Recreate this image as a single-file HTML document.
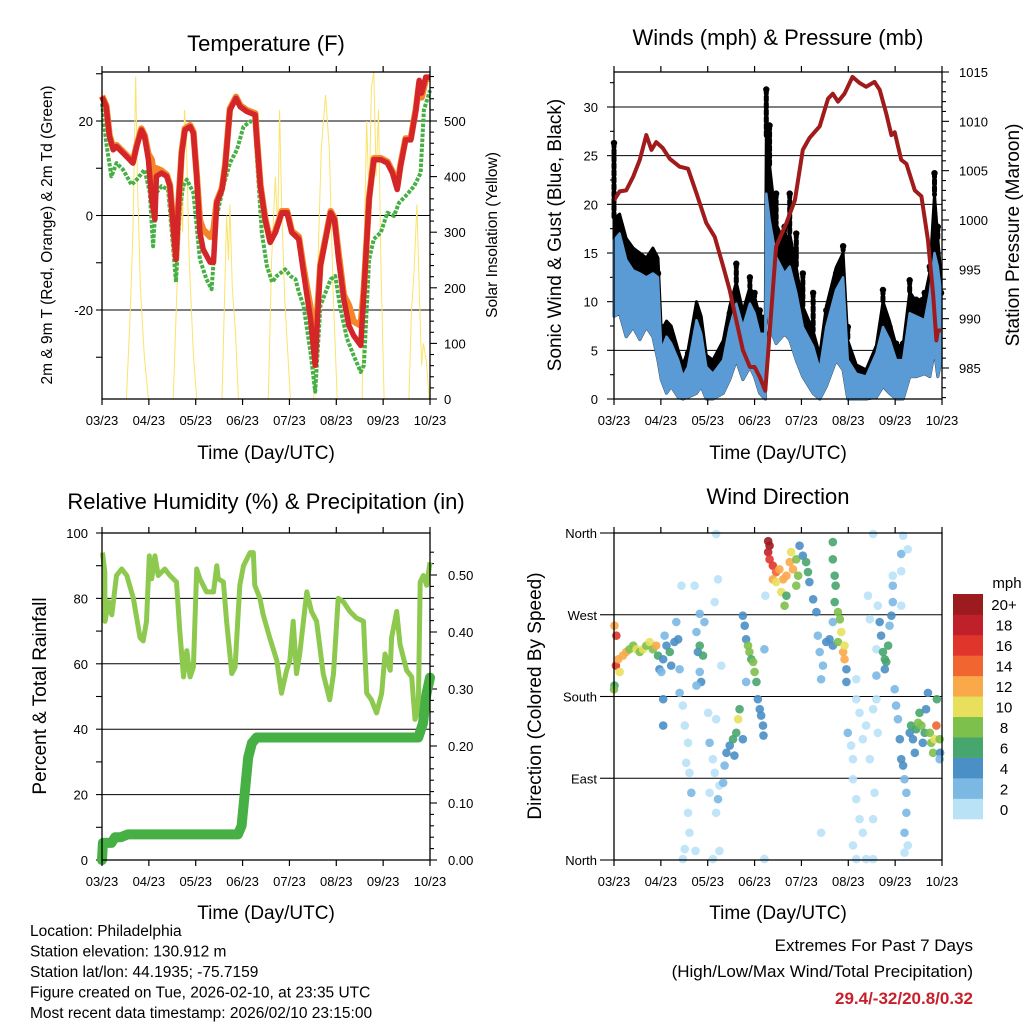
<!DOCTYPE html>
<html><head><meta charset="utf-8"><style>
html,body{margin:0;padding:0;background:#fff;}
svg{display:block;font-family:"Liberation Sans",Arial,sans-serif;}
</style></head><body>
<svg id="chart" width="1024" height="1024" viewBox="0 0 1024 1024" xmlns="http://www.w3.org/2000/svg">
<g id="layer"></g>
</svg>
<script>
// ---------- DATA ----------
const xTickLabels = ["03/23","04/23","05/23","06/23","07/23","08/23","09/23","10/23"];
// Temperature panel
const tDays = [0,0.09,0.16,0.24,0.31,0.45,0.59,0.66,0.74,0.84,0.91,0.99,1.06,1.13,1.16,1.27,1.38,1.45,1.52,1.58,1.63,1.70,1.77,1.88,1.95,2.02,2.09,2.16,2.31,2.38,2.45,2.56,2.63,2.73,2.86,2.95,3.09,3.27,3.30,3.38,3.48,3.59,3.70,3.84,3.95,4.05,4.20,4.30,4.45,4.55,4.59,4.66,4.80,4.88,4.96,5.05,5.16,5.27,5.37,5.52,5.59,5.70,5.80,5.95,6.09,6.20,6.30,6.37,6.48,6.59,6.70,6.77,6.82,6.91,7.0];
const tempRed = [25.1,23,16.7,13.9,14.6,13.2,11.8,11.1,14.6,18.1,16.7,11.8,3.4,-0.8,8.3,9.0,8.3,6.2,-2.3,-9.3,2.0,13.2,18.1,18.8,17.4,8.3,-3.6,-7.2,-9.9,-9.9,2.7,5.5,10.4,22.3,24.8,23,22,21.3,16.7,6.2,-0.8,-5.7,-3.6,0.6,0.6,-3.6,-5.0,-12,-21.9,-31.7,-23.3,-10.7,-3.6,0.6,-0.8,-9.3,-17.7,-23.3,-25.4,-27.5,-16.2,3.4,11.8,11.8,11.1,9.0,5.5,10.4,16,16,22.3,28.6,25.9,29.3,29.3];
const tempOrange = [25.3,23.3,17,14.2,14.9,13.5,12.1,11.4,14.9,18.4,17,13,11.8,7,10,9.5,8.6,6.5,-2,-9,2.3,13.5,18.4,19.1,17.7,8.6,-1,-3,-4.5,-3,3,5.8,10.7,22.6,25.1,23.3,22.3,21.6,17,6.5,-0.5,-5.4,-3.3,0.9,0.9,-3.3,-4.5,-11,-19.5,-26,-21,-10.4,-3.3,0.9,-0.5,-8,-16.8,-19,-22.4,-23.3,-15.5,3.7,12.1,12.1,11.4,9.3,6,10.7,16.3,16.3,22.6,28,25,28.8,29];
const gDays = [0,0.09,0.20,0.31,0.45,0.63,0.74,0.91,1.02,1.09,1.16,1.27,1.41,1.48,1.58,1.66,1.73,1.81,1.95,2.02,2.09,2.23,2.34,2.45,2.59,2.73,2.88,3.02,3.16,3.27,3.30,3.41,3.52,3.63,3.73,3.91,4.02,4.13,4.20,4.30,4.45,4.55,4.66,4.88,4.98,5.09,5.23,5.37,5.52,5.59,5.70,5.80,5.95,6.09,6.23,6.34,6.48,6.66,6.80,6.87,7.0];
const dewGreen = [23.7,15.4,8.3,11.1,9.7,6.5,7.6,9.7,4.8,-6.5,4.8,6.2,5.5,-2.3,-14.1,1.3,6.2,7.6,4.8,-2.3,-9.3,-13.5,-15.6,-0.1,6.2,11.1,13.9,18.8,19.9,19.9,13.2,-3.6,-10.7,-14.1,-12.8,-11.4,-12.8,-13.5,-16.2,-19.1,-28.9,-37.3,-19.1,-13.5,-12.8,-19.8,-26.1,-29.6,-33.1,-31.7,-9.3,-5.0,-3.6,0.6,-0.1,2.7,4.1,6.2,9.0,22.3,26.5];
const solarDays = [0,0.52,0.6,0.66,0.72,0.76,0.82,0.9,0.99,1.52,1.6,1.68,1.72,1.76,1.8,1.86,1.95,2.02,2.56,2.62,2.66,2.7,2.73,2.78,2.85,2.91,3.55,3.62,3.7,3.75,3.79,3.84,3.9,4.02,4.52,4.6,4.68,4.77,4.85,4.93,5.02,5.55,5.6,5.65,5.7,5.75,5.8,5.85,5.9,5.95,6.02,6.55,6.6,6.66,6.72,6.77,6.82,6.86,6.92,6.98,7];
const solarVals = [0,0,150,300,580,380,200,80,0,0,200,420,300,520,470,250,80,0,0,200,330,250,350,200,120,0,0,250,400,300,520,330,180,0,0,220,450,547,450,200,0,0,300,500,350,560,589,400,520,250,0,0,150,230,350,200,60,100,70,0,0];
// Wind panel
const wDays = [0,0.12,0.26,0.41,0.55,0.69,0.83,0.94,1.01,1.12,1.22,1.37,1.47,1.58,1.76,1.86,1.97,2.11,2.33,2.47,2.61,2.75,2.90,3.00,3.11,3.23,3.25,3.32,3.46,3.64,3.75,3.89,4.03,4.25,4.39,4.53,4.74,4.89,4.99,5.17,5.38,5.60,5.74,5.88,6.02,6.17,6.31,6.45,6.63,6.74,6.84,6.91,6.98];
const windHi = [16.3,17.0,14.3,13.2,12.9,12.5,12.9,12.5,5.0,6.4,5.7,4.0,2.3,3.3,8.1,6.7,3.3,2.6,4.0,7.4,9.8,7.4,9.8,8.8,6.7,6.7,21.1,18.4,14.6,12.9,13.6,10.9,7.4,5.4,3.0,7.4,11.2,12.5,4.0,2.6,2.3,4.7,7.4,6.1,4.0,4.0,8.8,8.5,8.1,10.9,15.0,13.6,10.9];
const windLo = [8.5,8.8,6.4,7.4,6.1,7.4,6.4,4.0,2.0,0.6,1.3,0.2,0,0.2,0.6,1.3,0,0,0.6,2.0,4.0,2.0,3.3,2.3,0.6,0,10.9,7.4,5.7,6.7,6.1,4.0,2.3,0.6,0,1.3,4.0,3.0,0,0,0,0.2,1.3,0.6,0,0,2.3,2.3,2.6,2.3,5.0,2.3,4.0];
const gustBand = [18.5,19,16.5,15.5,15,14.5,15.5,14.5,7,8,7.5,5,3.5,5,10,8.5,4.5,4,6,9.5,12,9,11.5,10.5,8.5,8.5,27,24,18,16,17,13.5,9.5,7,4.5,9.5,13.5,15,6,3.5,3,5.5,10,8,5.5,5.5,11,10,10.5,13,21,16.5,12.5];
const gustHi = [26.3,17.7,15.7,14.3,13.6,12.5,14.3,12.9,7.4,7.4,6.4,3.0,2.0,4.7,8.8,6.7,3.0,3.0,5.0,8.8,13.9,9.1,12.5,10.9,9.1,6.7,31.8,28.1,21.1,17.7,21.1,17.0,12.9,10.9,5.0,9.1,12.9,15.7,7.4,3.0,2.3,4.7,11.2,7.4,5.7,5.7,12.2,10.2,10.9,13.6,23.2,17.7,10.9];
const pDays = [0,0.12,0.26,0.41,0.55,0.69,0.80,0.90,1.04,1.19,1.40,1.58,1.76,1.97,2.15,2.33,2.47,2.61,2.75,2.90,3.00,3.11,3.23,3.32,3.46,3.68,3.86,4.03,4.17,4.39,4.57,4.67,4.78,4.92,5.09,5.24,5.38,5.56,5.67,5.81,5.92,5.99,6.13,6.24,6.42,6.56,6.70,6.81,6.88,6.91,6.98];
const pressure = [1002.0,1002.9,1003.0,1004.4,1006.1,1008.6,1007.1,1007.9,1007.3,1006.2,1005.4,1005.2,1002.7,999.7,998.3,995.3,992.9,989.8,986.8,985.1,985.1,984.1,982.7,988.5,997.3,999.7,1002.0,1007.1,1008.3,1009.5,1012.3,1012.8,1012.0,1012.8,1014.5,1013.9,1013.5,1014.0,1013.2,1010.8,1008.6,1008.9,1006.1,1005.7,1003.0,1002.4,998.0,992.5,987.8,988.8,988.8];
// RH / precip panel
const rhDays = [0.01,0.06,0.065,0.14,0.21,0.31,0.42,0.53,0.67,0.81,0.88,0.95,1.01,1.06,1.13,1.20,1.34,1.45,1.59,1.66,1.74,1.81,1.88,1.95,2.02,2.09,2.23,2.38,2.45,2.48,2.59,2.66,2.77,2.84,2.94,3.02,3.16,3.23,3.26,3.37,3.44,3.58,3.73,3.83,3.94,4.01,4.08,4.15,4.22,4.37,4.47,4.58,4.72,4.86,4.94,5.04,5.15,5.29,5.43,5.58,5.65,5.75,5.86,5.97,6.04,6.15,6.18,6.29,6.36,6.50,6.61,6.68,6.75,6.79,6.86,6.93,7.0];
const rhVals = [94,88,73,79,75,87,89,87,80,68,67,73,93,86,93,87,89,87,85,70,56,64,56,59,89,86,82,82,90,86,85,73,57,59,84,90,94,94,84,80,75,68,61,51,58,61,73,57,63,82,76,73,57,49,57,80,79,76,74,73,51,49,45,51,63,58,68,76,66,58,56,43,46,85,87,84,91];
const prDays = [0,0.02,0.05,0.2,0.28,0.4,0.55,2.9,2.98,3.05,3.12,3.2,3.3,6.75,6.85,6.92,7.0];
const precip = [0,0.03,0.03,0.03,0.04,0.04,0.045,0.045,0.06,0.12,0.18,0.205,0.215,0.215,0.24,0.29,0.32];
// Wind direction panel: [day, degrees (0=N,90=E,180=S,270=W), speed mph]
const dirObs = [[0.01,258,13],[0.05,247,17],[0.04,214,17],[0.01,192,7],[0,188,9],[0.09,221,13],[0.12,207,11],[0.19,225,12],[0.26,229,13],[0.33,232,9],[0.41,236,9],[0.48,232,11],[0.55,229,9],[0.62,232,11],[0.69,236,9],[0.76,240,11],[0.83,232,9],[0.90,236,13],[0.94,225,7],[0.97,210,5],[1.05,221,5],[1.12,236,5],[1.19,229,7],[1.22,214,5],[1.29,240,5],[1.37,243,5],[1.40,210,3],[1.01,207,3],[1.05,177,5],[1.05,148,5],[1.08,247,3],[1.33,262,3],[1.44,302,1],[1.40,184,3],[1.47,170,1],[1.51,148,1],[1.58,129,1],[1.54,107,1],[1.61,96,1],[1.65,74,3],[1.58,52,1],[1.61,30,1],[1.51,12,1],[1.47,1,1],[1.72,302,1],[1.76,251,3],[1.79,229,5],[1.83,236,7],[1.90,225,7],[1.83,207,3],[1.86,196,5],[1.76,192,3],[1.83,271,3],[1.93,262,3],[2.01,162,1],[2.04,129,3],[2.04,74,1],[2.11,111,1],[2.15,96,1],[2.18,52,1],[2.22,67,3],[2.25,82,1],[2.18,155,1],[2.15,284,1],[2.18,359,1],[2.22,309,1],[2.25,10,1],[2.11,1,1],[2.33,85,3],[2.36,104,3],[2.40,118,5],[2.47,126,5],[2.54,133,7],[2.61,140,7],[2.65,155,11],[2.68,166,7],[2.57,115,5],[2.75,133,5],[2.29,214,1],[1.74,10,1],
[2.75,269,5],[2.79,258,5],[2.82,243,5],[2.86,236,9],[2.89,229,9],[2.93,221,7],[2.97,218,9],[3.00,207,9],[3.04,196,7],[3.07,177,5],[3.11,166,5],[3.14,159,5],[3.18,148,5],[3.19,137,5],[3.21,232,3],[2.82,196,3],[3.23,291,1],[3.21,1,1],
[3.29,351,20],[3.32,346,20],[3.29,339,18],[3.32,331,17],[3.39,324,16],[3.46,317,14],[3.39,309,13],[3.53,320,12],[3.61,309,12],[3.68,313,12],[3.75,328,12],[3.78,339,10],[3.82,320,13],[3.89,331,9],[3.93,313,8],[3.57,295,10],[3.64,280,8],[3.68,291,6],[3.46,306,11],[3.89,302,8],[3.96,346,5],[4.03,335,5],[4.10,328,7],[4.14,317,6],[4.17,306,5],[4.25,287,5],[4.32,273,5],[4.35,247,3],[4.39,229,3],[4.42,199,3],[4.46,214,3],[4.53,240,5],[4.60,243,5],[4.67,236,4],[4.67,350,7],[4.67,331,7],[4.71,313,7],[4.73,302,7],[4.71,284,7],[4.78,273,8],[4.82,265,9],[4.85,251,10],[4.78,240,8],[4.89,229,13],[4.92,221,13],[4.92,236,10],[4.96,210,5],[4.96,196,5],[4.67,262,3],[4.42,30,1],
[4.99,140,3],[5.06,126,1],[5.10,111,1],[5.17,199,1],[5.17,177,1],[5.24,162,1],[5.31,133,1],[5.38,148,1],[5.46,111,1],[5.53,166,1],[5.60,177,1],[5.63,140,1],[5.56,74,1],[5.10,89,1],[5.17,67,1],[5.24,45,1],[5.31,30,1],[5.10,16,1],[5.17,1,1],[5.38,1,1],[5.53,1,1],[5.53,45,1],[5.42,291,1],[5.46,265,1],[5.60,232,1],[5.63,280,1],[5.67,262,5],[5.70,247,5],[5.74,229,7],[5.78,221,6],[5.81,218,7],[5.85,236,7],[5.78,210,5],[5.88,258,3],[5.92,269,5],[5.95,284,3],[5.95,302,3],[5.95,313,1],[6.17,357,1],[6.13,337,3],[6.27,342,1],[6.13,318,1],[6.13,280,1],[5.53,359,1],[5.60,203,3],
[5.99,188,3],[6.02,170,3],[6.06,155,3],[6.10,133,5],[6.13,111,5],[6.17,104,5],[6.20,89,3],[6.24,74,3],[6.24,52,3],[6.20,30,3],[6.20,8,1],[6.27,16,1],[6.31,140,5],[6.34,148,7],[6.38,133,5],[6.45,144,7],[6.49,151,9],[6.52,162,7],[6.56,148,9],[6.63,140,7],[6.66,166,5],[6.70,184,5],[6.74,140,9],[6.77,129,9],[6.81,118,9],[6.84,133,11],[6.88,148,15],[6.89,177,7],[6.95,133,9],[6.96,118,5],[6.95,111,3],[6.59,129,5],[6.42,118,5]];
const speedLabels = ["0","2","4","6","8","10","12","14","16","18","20+"];
const speedColors = ["#b9e2f7","#7bb8e4","#4a8fc6","#47a56e","#7dc04b","#e8e05c","#f9a94a","#f06530","#e0352b","#c0202a","#9b1b1e"];

// ---------- HELPERS ----------
const NS="http://www.w3.org/2000/svg";
const root=document.getElementById('layer');
function el(tag,attrs,parent){const e=document.createElementNS(NS,tag);for(const k in attrs)e.setAttribute(k,attrs[k]);(parent||root).appendChild(e);return e;}
function txt(s,x,y,size,anchor,parent,extra){const t=el('text',Object.assign({x:x,y:y,'font-size':size,'text-anchor':anchor||'start',fill:'#000'},extra||{}),parent);t.textContent=s;return t;}
function lin(d0,d1,p0,p1){return v=>p0+(v-d0)/(d1-d0)*(p1-p0);}

function panel(name,L,R,T,B){
  const g=el('g',{});
  
  
  return {g,L,R,T,B,x:lin(0,7,L,R)};
}
function frame(P,xtitleY){
  const g=P.g;
  const f=el('rect',{x:P.L,y:P.T,width:P.R-P.L,height:P.B-P.T,fill:'none',stroke:'#000','stroke-width':1.3},g);
  
  
  for(let i=0;i<=7;i++){
    const xx=P.x(i);
    el('line',{x1:xx,x2:xx,y1:P.B,y2:P.B+6,stroke:'#000','stroke-width':1.2},g);
    el('line',{x1:xx,x2:xx,y1:P.T,y2:P.T-6,stroke:'#000','stroke-width':1.2},g);
    const t=txt(xTickLabels[i],xx,P.B+26,13,'middle',g);
    
    
  }
  const xt=txt('Time (Day/UTC)',(P.L+P.R)/2,xtitleY,19,'middle',g);
  
  
}
function grid(P,y){el('line',{x1:P.L,x2:P.R,y1:y,y2:y,stroke:'#000','stroke-width':1},P.g);}
function lTick(P,y,len){el('line',{x1:P.L-len,x2:P.L,y1:y,y2:y,stroke:'#000','stroke-width':1.1},P.g);}
function rTick(P,y,len){el('line',{x1:P.R,x2:P.R+len,y1:y,y2:y,stroke:'#000','stroke-width':1.1},P.g);}
function pts(xs,ys,fx,fy){let s=[];const n=Math.min(xs.length,ys.length);for(let i=0;i<n;i++)s.push(fx(xs[i]).toFixed(1)+','+fy(ys[i]).toFixed(1));return s.join(' ');}
function title(s,x,y,parent){const t=txt(s,x,y,22,'middle',parent);return t;}
function vtitle(s,x,y,size,parent,name){const t=txt(s,x,y,size,'middle',parent,{transform:`rotate(-90 ${x} ${y})`});return t;}

// ---------- PANEL 1: TEMPERATURE ----------
{
const P=panel('temperature-panel',102,430,72,399);
const yT=lin(20,-20,121,310), yS=lin(0,500,399,121);
for(const v of [20,0,-20]) grid(P,yT(v));
for(const v of [30,20,10,0,-10,-20,-30]){ if(yT(v)>=P.T&&yT(v)<=P.B) lTick(P,yT(v),6);}
for(const v of [20,0,-20]){const t=txt(String(v),93,yT(v)+5,13,'end',P.g);}
for(let v=0;v<=580;v+=20){rTick(P,yS(v),v%100===0?7:4);}
for(let v=0;v<=500;v+=100){const t=txt(String(v),444,yS(v)+5,13,'start',P.g);}
const sol=el('polyline',{points:pts(solarDays,solarVals,P.x,yS),fill:'none',stroke:'#fbe36a','stroke-width':1},P.g);


const g1=el('polyline',{points:pts(gDays,dewGreen,P.x,yT),fill:'none',stroke:'#46b045','stroke-width':4,'stroke-dasharray':'3.5 1.5','stroke-linejoin':'round'},P.g);


const o1=el('polyline',{points:pts(tDays,tempOrange,P.x,yT),fill:'none',stroke:'#f5852a','stroke-width':6.5,'stroke-linejoin':'round'},P.g);


const r1=el('polyline',{points:pts(tDays,tempRed,P.x,yT),fill:'none',stroke:'#d42528','stroke-width':5.5,'stroke-linejoin':'round'},P.g);


frame(P,459);
title('Temperature (F)',266,51,P.g);
vtitle('2m & 9m T (Red, Orange) & 2m Td (Green)',52,235,15.5,P.g,'y-axis-title');
const s=txt('Solar Insolation (Yellow)',497,235,15.5,'middle',P.g,{transform:'rotate(-90 497 235)'});


}

// ---------- PANEL 2: WINDS ----------
{
const P=panel('winds-panel',614,942,72,399);
const yW=lin(0,30,399,107), yP=lin(985,1015,368,72);
for(const v of [5,10,15,20,25,30]) grid(P,yW(v));
for(let v=0;v<=33;v+=2.5) lTick(P,yW(v),v%5===0?7:4);
for(const v of [0,5,10,15,20,25,30]){const t=txt(String(v),598,yW(v)+5,13,'end',P.g);}
for(let v=982;v<=1016;v+=1){ if(yP(v)>=P.T&&yP(v)<=P.B) rTick(P,yP(v),v%5===0?7:4);}
for(const v of [985,990,995,1000,1005,1010,1015]){const t=txt(String(v),959,yP(v)+5,13,'start',P.g);}
// gust band (black)
let up=pts(wDays,gustBand,P.x,yW), lo=pts(wDays.slice().reverse(),windLo.slice().reverse(),P.x,yW);
const gb=el('polygon',{points:up+' '+lo,fill:'#000',stroke:'#000','stroke-width':3,'stroke-linejoin':'round'},P.g);


for(let i=0;i<wDays.length;i++){
  const xx=P.x(wDays[i]);
  if(gustHi[i]>gustBand[i]){
    const c=el('line',{x1:xx,x2:xx,y1:yW(gustHi[i]),y2:yW(gustBand[i]),stroke:'#000','stroke-width':5,'stroke-dasharray':'4 3','stroke-linecap':'round'},P.g);
    
    
  }
  const d=el('circle',{cx:xx,cy:yW(gustHi[i]),r:3.2,fill:'#000'},P.g);
  
  
}
up=pts(wDays,windHi,P.x,yW); lo=pts(wDays.slice().reverse(),windLo.slice().reverse(),P.x,yW);
const wb=el('polygon',{points:up+' '+lo,fill:'#5b9bd5',stroke:'#5b9bd5','stroke-width':2.5,'stroke-linejoin':'round'},P.g);


const pl=el('polyline',{points:pts(pDays,pressure,P.x,yP),fill:'none',stroke:'#a01c1c','stroke-width':4,'stroke-linejoin':'round'},P.g);


frame(P,459);
title('Winds (mph) & Pressure (mb)',778,45,P.g);
vtitle('Sonic Wind & Gust (Blue, Black)',561,235,19,P.g,'y-axis-title');
const s=txt('Station Pressure (Maroon)',1019,235,19,'middle',P.g,{transform:'rotate(-90 1019 235)'});


}

// ---------- PANEL 3: RH & PRECIP ----------
{
const P=panel('humidity-precip-panel',102,430,533,860);
const yR=lin(0,100,860,533), yPr=lin(0,0.5,860,575);
for(const v of [20,40,60,80]) grid(P,yR(v));
for(let v=0;v<=100;v+=10) lTick(P,yR(v),6);
for(const v of [0,20,40,60,80,100]){const t=txt(String(v),88,yR(v)+5,13,'end',P.g);}
for(let i=0;i<=27;i++){const v=i*0.02; if(yPr(v)>=P.T) rTick(P,yPr(v),i%5===0?7:4);}
for(let i=0;i<=5;i++){const t=txt((i/10).toFixed(2),448,yPr(i/10)+5,13,'start',P.g);}
const rh=el('polyline',{points:pts(rhDays,rhVals,P.x,yR),fill:'none',stroke:'#8dc94e','stroke-width':5,'stroke-linejoin':'round'},P.g);


const pr=el('polyline',{points:pts(prDays,precip,P.x,yPr),fill:'none',stroke:'#46b045','stroke-width':10,'stroke-linejoin':'round','stroke-linecap':'round'},P.g);


frame(P,919);
title('Relative Humidity (%) & Precipitation (in)',266,509,P.g);
vtitle('Percent & Total Rainfall',46,696,19,P.g,'y-axis-title');
}

// ---------- PANEL 4: WIND DIRECTION ----------
{
const P=panel('wind-direction-panel',614,942,533,860);
const yD=lin(0,360,860,533);
const dirLabels=["North","East","South","West","North"];
for(let i=0;i<5;i++){const y=yD(i*90); if(i>0&&i<4) grid(P,y); el('line',{x1:P.L-14,x2:P.L,y1:y,y2:y,stroke:'#000','stroke-width':1.1},P.g);
  const t=txt(dirLabels[i],597,y+5,13,'end',P.g);}
for(const o of dirObs){
  const idx=Math.min(10,Math.max(0,Math.floor(o[2]/2)));
  const c=el('circle',{cx:P.x(o[0]),cy:yD(o[1]),r:4.3,fill:speedColors[idx],'fill-opacity':0.9},P.g);
  
  
}
frame(P,919);
title('Wind Direction',778,504,P.g);
vtitle('Direction (Colored By Speed)',541,696,19,P.g,'y-axis-title');
// colorbar
const cb=el('g',{},P.g);


const h=225/11;
for(let i=0;i<11;i++){
  const y=594+(10-i)*h;
  const r=el('rect',{x:953,y:y,width:30,height:h+0.3,fill:speedColors[i]},cb);
  
  
  const t=txt(speedLabels[i],1004,y+h/2+6,15,'middle',cb);
  
  
}
const mu=txt('mph',1007,588,15,'middle',cb);


}

// ---------- FOOTER ----------
{
const g=el('g',{});


const lines=["Location: Philadelphia","Station elevation: 130.912 m","Station lat/lon: 44.1935; -75.7159","Figure created on Tue, 2026-02-10, at 23:35 UTC","Most recent data timestamp: 2026/02/10 23:15:00"];
lines.forEach((s,i)=>{txt(s,30,936+i*20.5,15.5,'start',g);});
const e=el('g',{});


txt('Extremes For Past 7 Days',973,951,17,'end',e);
txt('(High/Low/Max Wind/Total Precipitation)',973,977,17,'end',e);
txt('29.4/-32/20.8/0.32',973,1004,17,'end',e,{fill:'#c8202a','font-weight':'bold'});
}
</script>
</body></html>
